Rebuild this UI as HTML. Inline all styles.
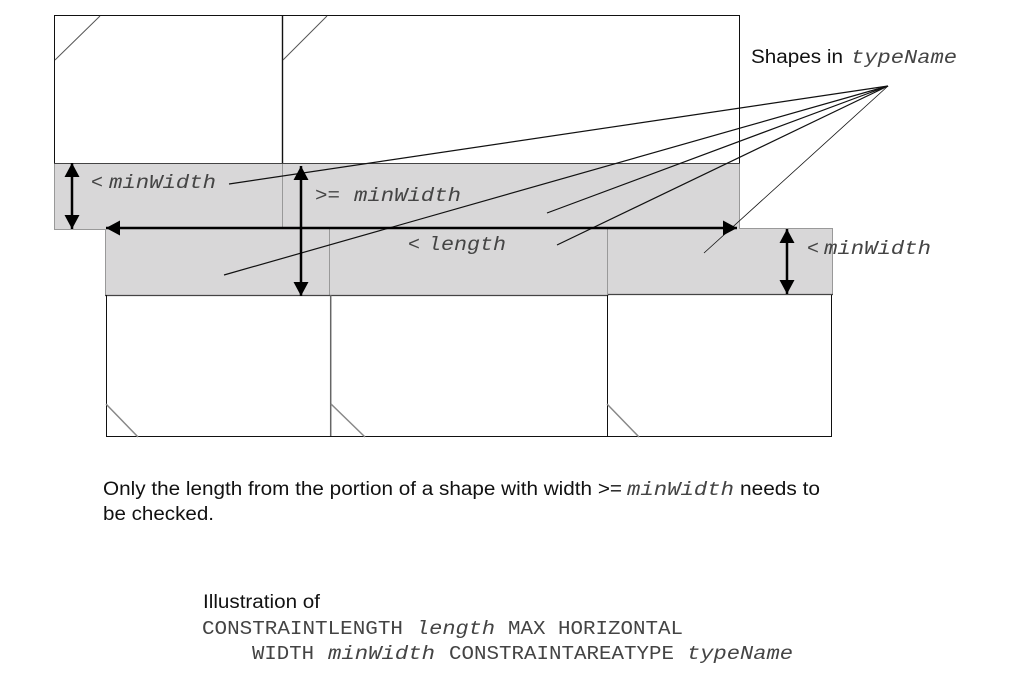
<!DOCTYPE html>
<html><head><meta charset="utf-8"><style>
html,body{margin:0;padding:0;background:#fff}
svg{display:block}
.s{font-family:"Liberation Sans",sans-serif;font-size:19px;fill:#111}
.m{font-family:"Liberation Mono",monospace;font-size:19px;fill:#444}
.i{font-family:"Liberation Mono",monospace;font-size:19px;font-style:italic;fill:#444}
</style></head><body>
<svg width="1013" height="688" viewBox="0 0 1013 688" xmlns="http://www.w3.org/2000/svg">
<defs>
<marker id="a" viewBox="0 0 14 15" refX="14" refY="7.500" markerWidth="14" markerHeight="15" markerUnits="userSpaceOnUse" orient="auto-start-reverse"><path d="M0 0L14 7.500L0 15Z" fill="#000"/></marker>
</defs>
<rect width="1013" height="688" fill="#fff"/>
<!-- top shapes -->
<path d="M54.500 163V15.500H739.500V163" fill="none" stroke="#111" stroke-width="1"/>
<path d="M282.500 15V163" fill="none" stroke="#111" stroke-width="1.400"/>
<path d="M55 60L100 16M283 60L327 16" stroke="#555" stroke-width="1" fill="none"/>
<!-- grey bands -->
<path d="M54.500 163.500H739.500V228.500H832.500V294.500H608V295.500H105.500V229.500H54.500Z" fill="#d8d7d8" stroke="#999" stroke-width="1"/>
<path d="M282.500 164V228M329.500 229V295M607.500 229V295" stroke="#999" stroke-width="1" fill="none"/>
<path d="M54 163.500H740" stroke="#444" stroke-width="1"/>
<path d="M105 295.500H608M608 294.500H833" stroke="#444" stroke-width="1.200"/>
<!-- bottom shapes -->
<path d="M106.500 295V436.500H831.500V295M607.500 295V436" fill="none" stroke="#111" stroke-width="1"/>
<path d="M330.700 295V436" fill="none" stroke="#666" stroke-width="1.500"/>
<path d="M106 404L138 437M331 404L365 437M607 404L639 437" stroke="#888" stroke-width="1.500" fill="none"/>
<!-- leader lines -->
<g stroke="#111" fill="none">
<path d="M229 184L888 86" stroke-width="1.200"/>
<path d="M224 275L888 86" stroke-width="1.200"/>
<path d="M547 213L888 86" stroke-width="1.200"/>
<path d="M557 245L888 86" stroke-width="1.200"/>
<path d="M704 253L888 86" stroke-width="0.800"/>
</g>
<!-- arrows -->
<g stroke="#000" stroke-width="2.500" fill="none">
<path d="M72 163V229" marker-start="url(#a)" marker-end="url(#a)"/>
<path d="M301 166V296" marker-start="url(#a)" marker-end="url(#a)"/>
<path d="M106 228H737" marker-start="url(#a)" marker-end="url(#a)"/>
<path d="M787 229V294" marker-start="url(#a)" marker-end="url(#a)"/>
</g>
<!-- labels -->
<text class="m" x="91" y="188" textLength="12" lengthAdjust="spacingAndGlyphs">&lt;</text>
<text class="i" x="109" y="188" textLength="107" lengthAdjust="spacingAndGlyphs">minWidth</text>
<text class="m" x="315" y="201" textLength="25" lengthAdjust="spacingAndGlyphs">&gt;=</text>
<text class="i" x="354" y="201" textLength="107" lengthAdjust="spacingAndGlyphs">minWidth</text>
<text class="m" x="408" y="250" textLength="12" lengthAdjust="spacingAndGlyphs">&lt;</text>
<text class="i" x="428" y="250" textLength="78" lengthAdjust="spacingAndGlyphs">length</text>
<text class="m" x="807" y="254" textLength="12" lengthAdjust="spacingAndGlyphs">&lt;</text>
<text class="i" x="824" y="254" textLength="107" lengthAdjust="spacingAndGlyphs">minWidth</text>
<text class="s" x="751" y="63" textLength="92" lengthAdjust="spacingAndGlyphs">Shapes in</text>
<text class="i" x="851" y="63" textLength="106" lengthAdjust="spacingAndGlyphs">typeName</text>
<text class="s" x="103" y="495" textLength="519" lengthAdjust="spacingAndGlyphs">Only the length from the portion of a shape with width &gt;=</text>
<text class="i" x="627" y="495" textLength="107" lengthAdjust="spacingAndGlyphs">minWidth</text>
<text class="s" x="740" y="495" textLength="80" lengthAdjust="spacingAndGlyphs">needs to</text>
<text class="s" x="103" y="520" textLength="111" lengthAdjust="spacingAndGlyphs">be checked.</text>
<text class="s" x="203" y="608" textLength="117" lengthAdjust="spacingAndGlyphs">Illustration of</text>
<text class="m" x="202" y="634" textLength="201" lengthAdjust="spacingAndGlyphs">CONSTRAINTLENGTH</text>
<text class="i" x="416" y="634" textLength="79" lengthAdjust="spacingAndGlyphs">length</text>
<text class="m" x="508" y="634" textLength="175" lengthAdjust="spacingAndGlyphs">MAX HORIZONTAL</text>
<text class="m" x="252" y="659" textLength="62" lengthAdjust="spacingAndGlyphs">WIDTH</text>
<text class="i" x="328" y="659" textLength="107" lengthAdjust="spacingAndGlyphs">minWidth</text>
<text class="m" x="449" y="659" textLength="225" lengthAdjust="spacingAndGlyphs">CONSTRAINTAREATYPE</text>
<text class="i" x="687" y="659" textLength="106" lengthAdjust="spacingAndGlyphs">typeName</text>
</svg>
</body></html>
